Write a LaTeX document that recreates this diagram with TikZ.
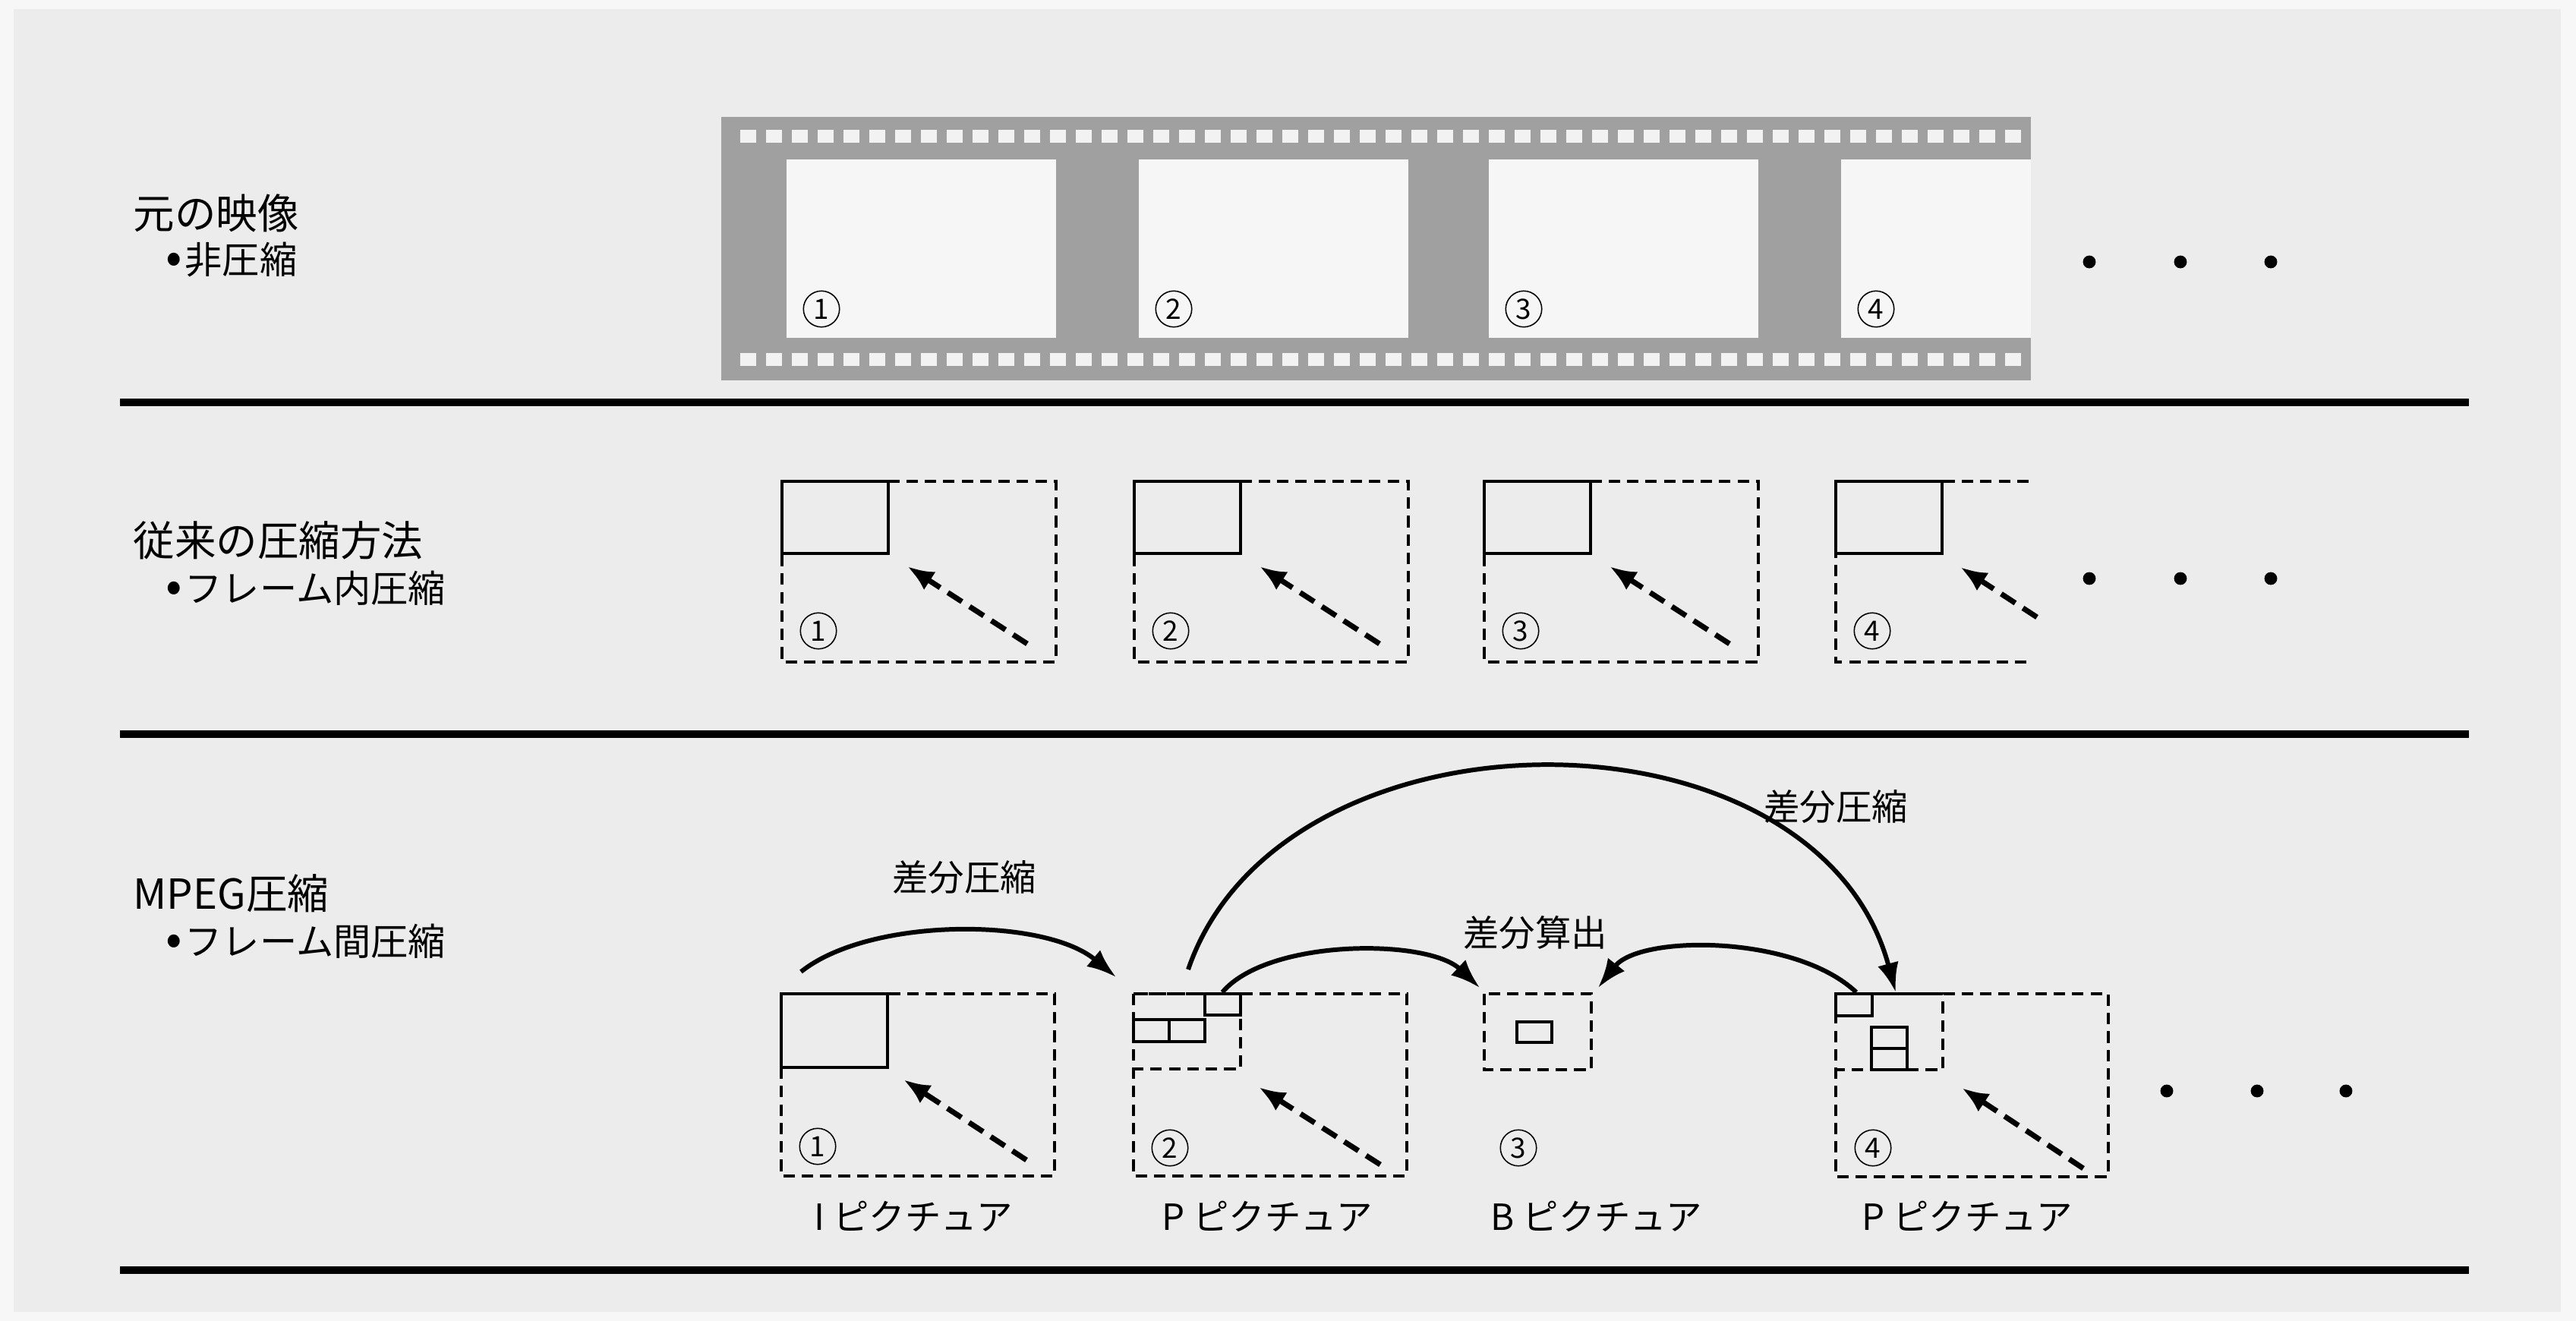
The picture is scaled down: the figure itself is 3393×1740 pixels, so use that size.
\documentclass[tikz,border=0pt]{standalone}
\usepackage{fontspec}
\newfontfamily\jp{Noto Sans CJK JP}
\usetikzlibrary{arrows.meta}
\definecolor{bgouter}{RGB}{247,247,247}
\definecolor{bginner}{RGB}{236,236,236}
\definecolor{filmgray}{RGB}{160,160,160}
\definecolor{filmwhite}{RGB}{246,246,246}
\definecolor{holewhite}{RGB}{242,242,242}
\newcommand{\bul}{{\fontsize{18pt}{18pt}\selectfont •}\hspace{1pt}}
\begin{document}
\begin{tikzpicture}[x=0.01cm,y=-0.01cm,
  sep/.style={line width=2.8pt},
  dframe/.style={line width=1.15pt, dash pattern=on 4.3pt off 2.6pt},
  sbox/.style={line width=1.4pt},
  motion/.style={line width=2pt, dash pattern=on 6.3pt off 3.4pt, -{Latex[length=10pt,width=8pt]}},
  arcarrow/.style={line width=1.7pt, -{Latex[length=11pt,width=8pt]}},
  numc/.style={circle, draw, line width=0.45pt, inner sep=0pt, minimum size=13.5pt, font=\jp\fontsize{10.5pt}{10.5pt}\selectfont},
  head/.style={anchor=west, inner sep=0pt, font=\jp\fontsize{15.5pt}{18pt}\selectfont},
  sub/.style={anchor=west, inner sep=0pt, font=\jp\fontsize{14pt}{16pt}\selectfont},
  lbl/.style={inner sep=0pt, font=\jp\fontsize{13.5pt}{16pt}\selectfont},
  dotn/.style={circle, fill=black, inner sep=0pt, minimum size=4.8pt}
]
\useasboundingbox (0,0) rectangle (3393,1740);
\fill[bgouter] (0,0) rectangle (3393,1740);
\fill[bginner] (18,12) rectangle (3373,1728);

% ---------- left headings
\node[head] (h1) at (175,281) {元の映像};
\node[sub]  (s1) at (218,342) {\bul 非圧縮};
\node[head] (h2) at (175,712) {従来の圧縮方法};
\node[sub]  (s2) at (218,775) {\bul フレーム内圧縮};
\node[head] (h3) at (175,1177) {MPEG圧縮};
\node[sub]  (s3) at (218,1240) {\bul フレーム間圧縮};

% ---------- separators
\draw[sep] (158,530) -- (3252,530);
\draw[sep] (158,967) -- (3252,967);
\draw[sep] (158,1673) -- (3252,1673);

% ---------- row 1: film strip
\fill[filmgray] (950,154) rectangle (2675,501);
\foreach \i in {0,...,49} {
  \fill[holewhite] ({975+34*\i},171) rectangle ++(21,17);
  \fill[holewhite] ({975+34*\i},465) rectangle ++(21,17);
}
\foreach \l/\r in {1036/1391,1500/1855,1961/2316,2425/2675}
  \fill[filmwhite] (\l,210) rectangle (\r,445);
\node[numc] (f1) at (1082,407) {1};
\node[numc] (f2) at (1546,407) {2};
\node[numc] (f3) at (2007,407) {3};
\node[numc] (f4) at (2471,407) {4};
\node[dotn] (d11) at (2752,345) {};
\node[dotn] (d12) at (2872,345) {};
\node[dotn] (d13) at (2991,345) {};

% ---------- row 2: intra-frame
\foreach \L/\n in {1030/1,1494/2,1955/3} {
  \draw[dframe] (\L,634) rectangle ++(361,238);
  \draw[sbox] (\L,634) rectangle ++(140,95);
  \coordinate (m2a\n) at ({\L+323},848);
  \coordinate (m2b\n) at ({\L+165},746);
  \draw[motion] (m2a\n) -- (m2b\n);
  \node[numc] (r2n\n) at ({\L+48},831) {\n};
}
\draw[dframe] (2672,634) -- (2418,634) -- (2418,872) -- (2672,872);
\draw[sbox] (2418,634) rectangle ++(140,95);
\coordinate (m2a4) at (2683,813);
\coordinate (m2b4) at (2582,747);
\draw[motion] (m2a4) -- (m2b4);
\node[numc] (r2n4) at (2466,831) {4};
\node[dotn] (d21) at (2752,762) {};
\node[dotn] (d22) at (2872,762) {};
\node[dotn] (d23) at (2991,762) {};

% ---------- row 3: MPEG
% frame 1 (I)
\draw[dframe] (1029,1309) rectangle (1389,1549);
\draw[sbox] (1029,1309) rectangle (1169,1406);
\coordinate (m31a) at (1352,1528); \coordinate (m31b) at (1190,1422);
\draw[motion] (m31a) -- (m31b);
\node[numc] (r3n1) at (1077,1510) {1};
% frame 2 (P)
\draw[dframe] (1493,1309) rectangle (1853,1549);
\draw[dframe] (1493,1309) rectangle (1634,1408);
\draw[sbox] (1587,1309) rectangle (1634,1337);
\draw[sbox] (1493,1343) rectangle (1540,1372);
\draw[sbox] (1540,1343) rectangle (1587,1372);
\coordinate (m32a) at (1818,1534); \coordinate (m32b) at (1658,1432);
\draw[motion] (m32a) -- (m32b);
\node[numc] (r3n2) at (1541,1512) {2};
% frame 3 (B)
\draw[dframe] (1955,1309) rectangle (2096,1409);
\draw[sbox] (1998,1346) rectangle (2044,1373);
\node[numc] (r3n3) at (2000,1512) {3};
% frame 4 (P)
\draw[dframe] (2418,1309) rectangle (2777,1550);
\draw[dframe] (2418,1309) rectangle (2559,1409);
\draw[sbox] (2418,1309) rectangle (2466,1338);
\draw[sbox] (2465,1353) rectangle (2512,1409);
\draw[sbox] (2465,1381) -- (2512,1381);
\coordinate (m34a) at (2744,1539); \coordinate (m34b) at (2584,1433);
\draw[motion] (m34a) -- (m34b);
\node[numc] (r3n4) at (2467,1512) {4};
\node[dotn] (d31) at (2854,1437) {};
\node[dotn] (d32) at (2973,1437) {};
\node[dotn] (d33) at (3090,1437) {};

% picture labels
\node[lbl, anchor=west] (pI)  at (1072,1602) {I ピクチュア};
\node[lbl, anchor=west] (pP2) at (1530,1602) {P ピクチュア};
\node[lbl, anchor=west] (pB)  at (1963,1602) {B ピクチュア};
\node[lbl, anchor=west] (pP4) at (2452,1602) {P ピクチュア};

% arcs
\coordinate (a1s) at (1055,1280); \coordinate (a1e) at (1470,1287);
\draw[arcarrow] (a1s) .. controls (1145,1208) and (1375,1208) .. (a1e);
\coordinate (a2s) at (1565,1277); \coordinate (a2e) at (2497,1307);
\draw[arcarrow] (a2s) .. controls (1688,918) and (2392,918) .. (a2e);
\coordinate (a3s) at (1610,1307); \coordinate (a3e) at (1949,1301);
\draw[arcarrow] (a3s) .. controls (1670,1236) and (1880,1236) .. (a3e);
\coordinate (a4s) at (2445,1307); \coordinate (a4e) at (2105,1301);
\draw[arcarrow] (a4s) .. controls (2365,1231) and (2160,1231) .. (a4e);

\node[lbl] (t1) at (1270,1156) {差分圧縮};
\node[lbl] (t2) at (2418,1063) {差分圧縮};
\node[lbl] (t3) at (2022,1228) {差分算出};
\end{tikzpicture}
\end{document}
